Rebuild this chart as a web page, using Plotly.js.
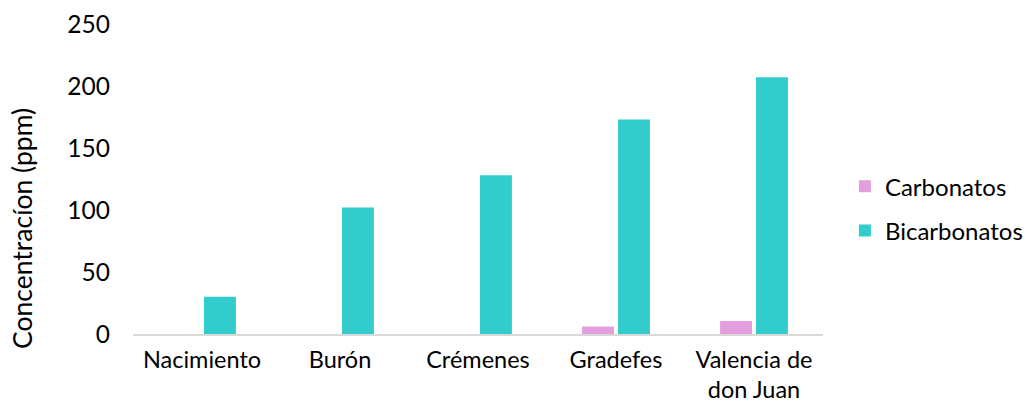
<!DOCTYPE html>
<html>
<head>
<meta charset="utf-8">
<script src="https://cdn.plot.ly/plotly-3.0.1.min.js"></script>
<style>html,body{margin:0;padding:0;background:#fff;}#chart{width:1026px;height:403px;}</style>
</head>
<body>
<div id="chart"></div>
<script>
const categories = ["Nacimiento", "Burón", "Crémenes", "Gradefes", "Valencia de<br>don Juan"];
const carbonatos = [0, 0, 0, 6, 10.5];
const bicarbonatos = [30, 102, 128, 173, 207];
const yTicks = [0, 50, 100, 150, 200, 250];

const font = {family: "Lato, 'Open Sans', sans-serif", size: 24.5, color: "#000"};

const data = [
  {type: "bar", name: "Carbonatos", legendgroup: "a", x: categories, y: carbonatos, marker: {color: "#e59edd"}},
  {type: "bar", name: "Bicarbonatos", legendgroup: "b", x: categories, y: bicarbonatos, marker: {color: "#33cccc"}}
];

const layout = {
  width: 1026, height: 403,
  margin: {l: 133, r: 203, t: 24, b: 69},
  paper_bgcolor: "#fff", plot_bgcolor: "#fff",
  font: font,
  barmode: "group",
  bargap: 0.48,
  bargroupgap: 0.11,
  showlegend: true,
  legend: {xref: "container", yref: "container", x: 0.8235, y: 0.482, xanchor: "left", yanchor: "middle",
           font: Object.assign({}, font, {size: 24}), tracegroupgap: 10, itemwidth: 30, borderwidth: 0},
  xaxis: {
    showline: true, linecolor: "#d9d9d9", linewidth: 1.5,
    ticks: "", showgrid: false, zeroline: false,
    tickfont: Object.assign({}, font, {size: 23.5}), automargin: false, ticklabelstandoff: 4
  },
  yaxis: {
    range: [0, 250], tickvals: yTicks, ticktext: yTicks.map(String),
    showgrid: false, zeroline: false, showline: false, ticks: "",
    tickfont: font, ticklabelstandoff: 22, automargin: false
  },
  annotations: [{
    text: "Concentracíon (ppm)", xref: "paper", yref: "paper",
    x: -0.161, y: 0.342, xanchor: "center", yanchor: "middle",
    textangle: -90, showarrow: false, font: Object.assign({}, font, {size: 26.5})
  }]
};

Plotly.newPlot("chart", data, layout, {displayModeBar: false, staticPlot: true});
</script>
</body>
</html>
